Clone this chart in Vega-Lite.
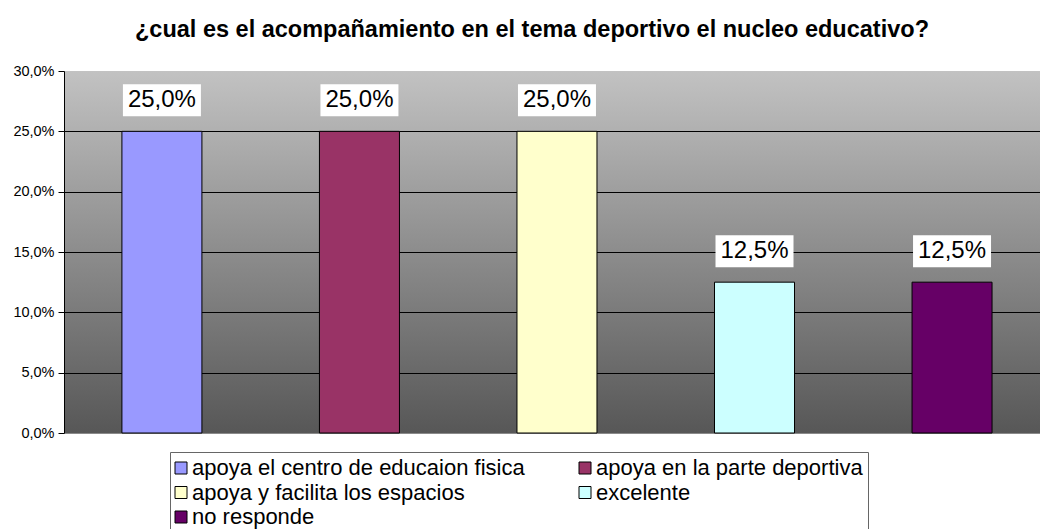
{
  "$schema": "https://vega.github.io/schema/vega-lite/v6.json",
  "autosize": {"type": "none"},
  "width": 976,
  "height": 362,
  "padding": {"left": 64, "top": 71, "right": 0, "bottom": 96},
  "background": "white",
  "config": {
    "locale": {"number": {"decimal": ",", "thousands": ".", "grouping": [3], "currency": ["", " €"]}},
    "view": {
      "fill": {"gradient": "linear", "x1": 0, "y1": 0, "x2": 0, "y2": 1,
        "stops": [{"offset": 0, "color": "#c2c2c2"}, {"offset": 1, "color": "#575757"}]},
      "stroke": null
    },
    "font": "Liberation Sans"
  },
  "title": {
    "text": "¿cual es el acompañamiento en el tema deportivo el nucleo educativo?",
    "font": "Liberation Sans", "fontSize": 23.5, "fontWeight": "bold", "color": "black",
    "anchor": "middle", "dx": -20, "offset": 22
  },
  "data": {
    "values": [
      {"cat": "apoya el centro de educaion fisica", "pct": 0.25},
      {"cat": "apoya en la parte deportiva", "pct": 0.25},
      {"cat": "apoya y facilita los espacios", "pct": 0.25},
      {"cat": "excelente", "pct": 0.125},
      {"cat": "no responde", "pct": 0.125}
    ]
  },
  "encoding": {
    "x": {
      "field": "cat", "type": "nominal", "sort": null, "axis": null,
      "scale": {"paddingInner": 0.595, "paddingOuter": 0.268, "align": 0.547}
    },
    "y": {
      "field": "pct", "type": "quantitative",
      "scale": {"domain": [0, 0.3], "nice": false},
      "axis": {
        "title": null, "values": [0, 0.05, 0.1, 0.15, 0.2, 0.25, 0.3], "format": ".1%",
        "labelFont": "Liberation Sans", "labelFontSize": 14.5, "labelColor": "black", "labelPadding": 4,
        "tickColor": "black", "tickSize": 6, "domainColor": "black",
        "grid": true,
        "gridColor": {"condition": [{"test": "datum.value >= 0.3", "value": "transparent"}, {"test": "datum.value <= 0", "value": "#8a8a8a"}], "value": "black"},
        "gridOpacity": 1
      }
    }
  },
  "layer": [
    {
      "mark": {"type": "bar", "stroke": "black", "strokeWidth": 1},
      "encoding": {
        "color": {
          "field": "cat", "type": "nominal", "sort": null,
          "scale": {
            "domain": ["apoya el centro de educaion fisica", "apoya en la parte deportiva", "apoya y facilita los espacios", "excelente", "no responde"],
            "range": ["#9999FF", "#993366", "#FFFFCC", "#CCFFFF", "#660066"]
          },
          "legend": {
            "orient": "none", "legendX": 106, "legendY": 381, "direction": "horizontal", "columns": 2, "title": null,
            "symbolType": "square", "symbolSize": 144, "symbolStrokeColor": "black", "symbolStrokeWidth": 1,
            "symbolOffset": -5,
            "labelFont": "Liberation Sans", "labelFontSize": 22, "labelColor": "black", "labelLimit": 0,
            "labelOffset": 0, "strokeColor": "#666666", "fillColor": "white", "padding": 5,
            "rowPadding": 2.5, "columnPadding": 52
          }
        }
      }
    },
    {
      "mark": {"type": "point", "shape": "M-1,-0.41L1,-0.41L1,0.41L-1,0.41Z", "size": 6084,
        "filled": true, "color": "white", "opacity": 1, "strokeWidth": 0, "yOffset": -31}
    },
    {
      "mark": {"type": "text", "font": "Liberation Sans", "fontSize": 24, "color": "black", "baseline": "middle", "yOffset": -31},
      "encoding": {"text": {"field": "pct", "type": "quantitative", "format": ".1%"}}
    }
  ]
}
